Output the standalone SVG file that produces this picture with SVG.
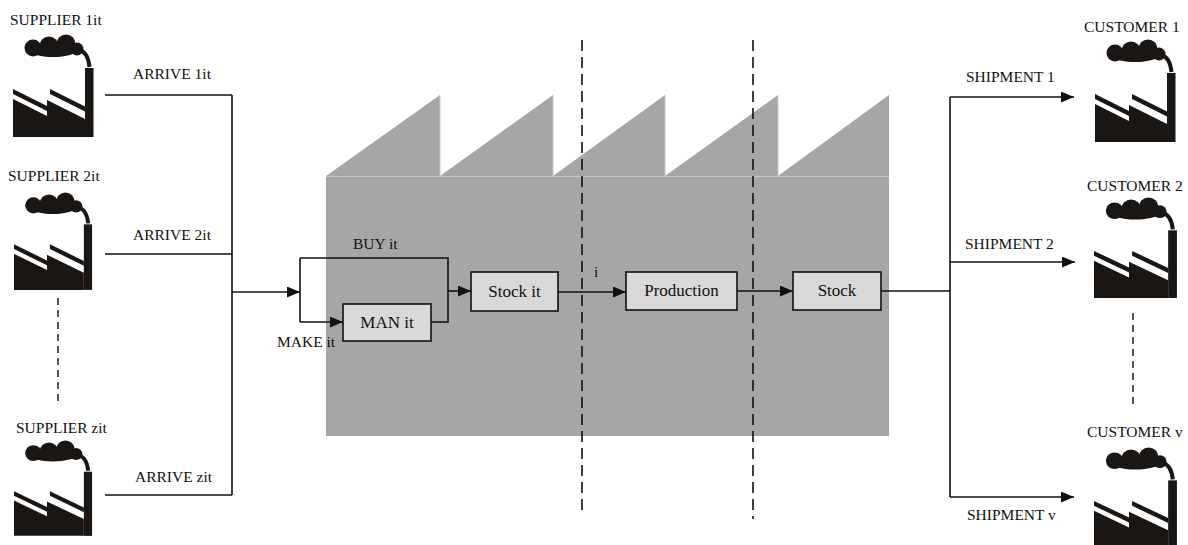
<svg xmlns="http://www.w3.org/2000/svg" width="1188" height="545" viewBox="0 0 1188 545">
  <style>
    text { font-family: "Liberation Serif", "DejaVu Serif", serif; font-size: 15.5px; fill: #111; }
    .mid { text-anchor: middle; }
    .inbox { font-size: 17px; }
    .wire { fill: none; stroke: #111; stroke-width: 1.6; }
    .box { fill: #d9d9d9; stroke: #111; stroke-width: 1.6; }
    .cut { fill: none; stroke: #111; stroke-width: 1.6; stroke-dasharray: 11 6; }
    .dots { fill: none; stroke: #111; stroke-width: 1.4; stroke-dasharray: 7 5; }
    .hall { fill: #a6a6a6; }
    .seam { stroke: #c9c9c9; stroke-width: 1; }
  </style>
  <defs>
    <marker id="arrow" markerUnits="userSpaceOnUse" markerWidth="13" markerHeight="11" refX="13" refY="5.5" orient="auto">
      <path d="M0,0 L13,5.5 L0,11 z" fill="#111"/>
    </marker>
    <!-- factory pictogram, 80 x 102 units -->
    <symbol id="plant" overflow="visible">
      <g fill="#1a1614">
        <circle cx="20" cy="13" r="8.5"/>
        <circle cx="36" cy="11" r="9.5"/>
        <circle cx="53" cy="9" r="9.5"/>
        <circle cx="64" cy="14" r="6.5"/>
        <ellipse cx="40" cy="15" rx="24" ry="7"/>
        <rect x="72" y="33" width="8.5" height="69"/>
        <polygon points="0,64 34,81 34,65 72,84 72,102 0,102"/>
        <polygon points="0,54 34,71 34,76 0,59"/>
        <polygon points="37,54 72,71.5 72,76.5 37,59"/>
      </g>
      <path d="M66,15 Q75,17 76.5,32" fill="none" stroke="#1a1614" stroke-width="4"/>
    </symbol>
  </defs>

  <!-- factory hall with sawtooth roof -->
  <g id="hall">
    <rect class="hall" x="326" y="176" width="563" height="260"/>
    <polygon class="hall" points="326,176 440,95 440,176"/>
    <polygon class="hall" points="440,176 553,95 553,176"/>
    <polygon class="hall" points="553,176 665,95 665,176"/>
    <polygon class="hall" points="665,176 778,95 778,176"/>
    <polygon class="hall" points="778,176 889,95 889,176"/>
    <line class="seam" x1="326" y1="176.5" x2="889" y2="176.5"/>
    <line class="seam" x1="440" y1="96" x2="440" y2="176"/>
    <line class="seam" x1="553" y1="96" x2="553" y2="176"/>
    <line class="seam" x1="665" y1="96" x2="665" y2="176"/>
    <line class="seam" x1="778" y1="96" x2="778" y2="176"/>
  </g>

  <!-- stage boundaries -->
  <g id="boundaries">
    <line class="cut" x1="582" y1="40" x2="582" y2="514"/>
    <line class="cut" x1="753" y1="40" x2="753" y2="519"/>
    <line class="dots" x1="58" y1="298" x2="58" y2="402"/>
    <line class="dots" x1="1133" y1="313" x2="1133" y2="409"/>
  </g>

  <g id="supplier-1">
    <use href="#plant" transform="translate(13,35)"/>
    <text x="10" y="25">SUPPLIER 1it</text>
  </g>
  <g id="supplier-2">
    <use href="#plant" transform="translate(14,193) scale(0.97,0.95)"/>
    <text x="8" y="181">SUPPLIER 2it</text>
  </g>
  <g id="supplier-z">
    <use href="#plant" transform="translate(14,441) scale(0.97,0.93)"/>
    <text x="16" y="433">SUPPLIER zit</text>
  </g>

  <g id="customer-1">
    <use href="#plant" transform="translate(1095,40)"/>
    <text x="1084" y="32">CUSTOMER 1</text>
  </g>
  <g id="customer-2">
    <use href="#plant" transform="translate(1094,198) scale(1.03,0.98)"/>
    <text x="1087" y="191">CUSTOMER 2</text>
  </g>
  <g id="customer-v">
    <use href="#plant" transform="translate(1094,448) scale(1.03,0.98)"/>
    <text x="1087" y="437">CUSTOMER v</text>
  </g>

  <g id="man">
    <rect class="box" x="343" y="304" width="88" height="37"/>
    <text class="mid inbox" x="387" y="328">MAN it</text>
  </g>
  <g id="stock-in">
    <rect class="box" x="471" y="272" width="87" height="39"/>
    <text class="mid inbox" x="514.5" y="297">Stock it</text>
  </g>
  <g id="production">
    <rect class="box" x="626" y="272" width="111" height="38"/>
    <text class="mid inbox" x="681.5" y="296">Production</text>
  </g>
  <g id="stock-out">
    <rect class="box" x="793" y="272" width="88" height="38"/>
    <text class="mid inbox" x="837" y="296">Stock</text>
  </g>

  <g id="connectors">
    <path class="wire" d="M105,95 H232"/>
    <path class="wire" d="M105,254 H232"/>
    <path class="wire" d="M105,495 H232"/>
    <path class="wire" d="M232,95 V495"/>
    <path class="wire" d="M232,292 H300" marker-end="url(#arrow)"/>
    <path class="wire" d="M300,258 V322"/>
    <path class="wire" d="M300,258 H448 V322 H431"/>
    <path class="wire" d="M300,322 H343" marker-end="url(#arrow)"/>
    <path class="wire" d="M448,291 H471" marker-end="url(#arrow)"/>
    <path class="wire" d="M558,292 H626" marker-end="url(#arrow)"/>
    <path class="wire" d="M737,291 H793" marker-end="url(#arrow)"/>
    <path class="wire" d="M881,291 H950"/>
    <path class="wire" d="M950,97 V497"/>
    <path class="wire" d="M950,97 H1074" marker-end="url(#arrow)"/>
    <path class="wire" d="M950,262 H1075" marker-end="url(#arrow)"/>
    <path class="wire" d="M950,497 H1074" marker-end="url(#arrow)"/>
  </g>

  <g id="labels">
    <text x="133" y="79">ARRIVE 1it</text>
    <text x="133" y="240">ARRIVE 2it</text>
    <text x="135" y="482">ARRIVE zit</text>
    <text x="353" y="249">BUY it</text>
    <text x="277" y="347">MAKE it</text>
    <text x="594" y="277">i</text>
    <text x="966" y="82">SHIPMENT 1</text>
    <text x="965" y="249">SHIPMENT 2</text>
    <text x="967" y="520">SHIPMENT v</text>
  </g>
</svg>
